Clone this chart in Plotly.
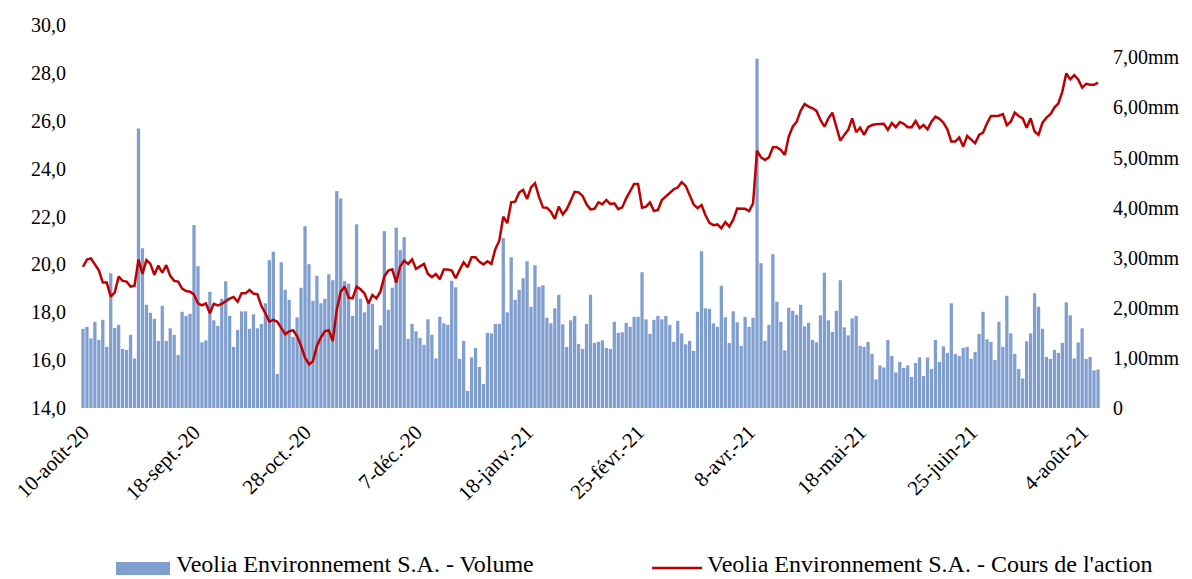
import plotly.graph_objects as go

# ---- data -------------------------------------------------------------
tick_labels = ["10-août-20", "18-sept.-20", "28-oct.-20", "7-déc.-20", "18-janv.-21",
               "25-févr.-21", "8-avr.-21", "18-mai-21", "25-juin-21", "4-août-21"]
tick_step = 28  # one date label every 28 trading days

# daily volume, millions of shares
volume = [1.58,1.62,1.39,1.72,1.36,1.76,1.22,2.69,1.60,1.66,
          1.18,1.16,1.46,0.99,5.58,3.19,2.06,1.90,1.78,1.34,
          2.04,1.34,1.59,1.46,1.06,1.92,1.84,1.88,3.65,2.83,
          1.31,1.35,2.32,1.75,1.64,2.18,2.53,1.84,1.22,1.56,
          1.93,1.93,1.58,1.87,1.59,1.68,2.09,2.95,3.12,0.68,
          2.91,2.36,2.16,1.42,1.81,2.40,3.63,2.87,2.14,2.64,
          2.09,2.18,2.67,2.55,4.33,4.18,2.53,2.48,1.84,3.67,
          2.18,1.91,2.16,2.08,1.17,1.65,3.53,1.96,2.40,3.60,
          3.15,3.41,1.38,1.68,1.53,1.40,1.26,1.77,1.46,0.99,
          1.82,1.69,1.66,2.54,2.41,0.98,1.34,0.34,1.01,1.20,
          0.82,0.48,1.50,1.49,1.68,1.68,3.39,1.91,3.01,2.16,
          2.36,2.59,2.93,2.02,2.85,2.42,2.45,1.80,1.69,1.99,
          2.26,1.67,1.22,1.75,1.84,1.28,1.18,1.68,2.26,1.30,
          1.32,1.35,1.20,1.18,1.72,1.50,1.51,1.70,1.62,1.82,
          1.82,2.71,1.77,1.48,1.76,1.84,1.77,1.84,1.66,1.32,
          1.74,1.49,1.27,1.34,1.14,1.92,3.13,1.99,1.98,1.69,
          1.62,2.44,1.81,1.30,1.93,1.71,1.24,1.82,1.62,1.80,
          6.97,2.89,1.34,1.66,3.07,2.12,1.72,1.15,2.00,1.94,
          1.86,2.06,1.63,1.70,1.36,1.31,1.85,2.70,1.75,1.52,
          1.94,2.55,1.61,1.45,1.79,1.84,1.24,1.22,1.32,1.08,
          0.57,0.85,0.81,1.36,1.04,0.71,0.92,0.80,0.85,0.62,
          0.90,1.01,0.64,1.01,0.78,1.36,0.92,1.23,1.10,2.09,
          1.08,1.04,1.20,1.22,0.98,1.12,1.48,1.92,1.37,1.32,
          0.96,1.72,1.22,2.24,1.49,1.08,0.78,0.59,1.33,1.49,
          2.29,2.02,1.58,1.02,0.98,1.16,1.10,1.30,2.11,1.85,
          0.99,1.31,1.59,0.98,1.02,0.75,0.77]

# daily closing price, EUR
price = [19.90,20.20,20.25,20.00,19.75,19.24,19.24,18.65,18.82,19.49,
         19.31,19.28,19.07,19.11,20.21,19.60,20.18,20.02,19.56,19.95,
         19.65,19.97,19.52,19.31,19.28,18.99,18.89,18.86,18.74,18.37,
         18.29,18.37,17.96,18.35,18.29,18.35,18.46,18.57,18.64,18.44,
         18.79,18.79,18.93,18.78,18.75,18.26,17.96,17.61,17.68,17.60,
         17.35,17.08,17.20,17.25,17.00,16.60,16.10,15.82,15.95,16.60,
         16.95,17.20,17.25,16.80,18.10,18.86,19.07,18.61,18.58,19.07,
         18.96,18.79,18.37,18.72,18.58,18.86,19.49,19.74,19.79,19.24,
         19.91,20.16,20.02,20.21,19.81,19.91,20.02,19.60,19.47,19.60,
         19.38,19.79,19.79,19.74,19.42,19.77,20.09,19.88,20.30,20.30,
         20.11,20.00,20.13,20.02,20.64,20.99,21.99,21.72,22.59,22.62,
         23.00,23.11,22.73,23.22,23.39,22.83,22.38,22.37,22.20,21.90,
         22.41,22.09,22.30,22.66,23.03,23.01,22.86,22.51,22.30,22.32,
         22.59,22.51,22.69,22.52,22.55,22.31,22.38,22.76,23.04,23.36,
         23.36,22.37,22.41,22.59,22.23,22.27,22.69,22.83,22.97,23.14,
         23.21,23.44,23.28,22.90,22.51,22.35,22.48,22.05,21.73,21.64,
         21.67,21.51,21.77,21.58,21.87,22.33,22.33,22.32,22.23,22.55,
         24.75,24.47,24.36,24.47,24.89,24.89,24.78,24.57,25.34,25.75,
         25.96,26.42,26.70,26.59,26.52,26.41,26.03,25.75,26.10,26.34,
         25.75,25.17,25.41,25.62,26.10,25.52,25.71,25.41,25.73,25.82,
         25.85,25.85,25.87,25.62,25.90,25.73,25.95,25.87,25.73,25.73,
         25.99,25.69,25.82,25.64,25.96,26.17,26.08,25.92,25.64,25.13,
         25.13,25.30,24.92,25.37,25.20,25.06,25.41,25.50,25.89,26.20,
         26.20,26.21,26.28,25.82,25.96,26.34,26.20,26.10,25.71,26.10,
         25.55,25.41,25.92,26.13,26.27,26.55,26.73,27.22,27.98,27.73,
         27.91,27.73,27.38,27.54,27.50,27.50,27.59]

price_ticks = [14, 16, 18, 20, 22, 24, 26, 28, 30]
volume_ticks = [0, 1, 2, 3, 4, 5, 6, 7]

name_vol = "Veolia Environnement S.A. - Volume"
name_px = "Veolia Environnement S.A. - Cours de l'action"

# ---- styling / layout -------------------------------------------------
OFF = 8                      # page body margin of the browser
W, H = 1192 - OFF, 579 - OFF
PL, PR, PT, PB = 81, 1100, 25, 408   # plot area in screen pixels
ML, MR, MT, MB = PL - OFF, W - (PR - OFF), PT - OFF, H - (PB - OFF)
FONT = "Liberation Serif, Times New Roman, serif"
BAR_COLOR = "#809FCF"
LINE_COLOR = "#C00000"

x = list(range(len(volume)))

fig = go.Figure()
fig.add_trace(go.Bar(x=x, y=volume, name=name_vol,
                     marker=dict(color=BAR_COLOR, line=dict(width=0)),
                     yaxis="y", showlegend=False))
fig.add_trace(go.Scatter(x=x, y=price, name=name_px, mode="lines",
                         line=dict(color=LINE_COLOR, width=2.5),
                         yaxis="y2", showlegend=False))

pw = PR - PL
ph = PB - PT

def px_x(X):   # screen x -> paper
    return (X - PL) / pw

def px_y(Y):   # screen y -> paper
    return (PB - Y) / ph

fig.update_layout(
    width=W, height=H,
    margin=dict(l=ML, r=MR, t=MT, b=MB, autoexpand=False),
    paper_bgcolor="white", plot_bgcolor="white",
    font=dict(family=FONT, size=20, color="black"),
    bargap=0.17,
    xaxis=dict(range=[-0.5, len(volume) - 0.5],
               tickvals=[i * tick_step for i in range(len(tick_labels))],
               ticktext=tick_labels, tickangle=-45, automargin=False,
               showgrid=False, zeroline=False, showline=False, ticks="",
               tickfont=dict(size=21), ticklabelstandoff=7),
    yaxis=dict(side="right", range=[0, 7.645], tickvals=volume_ticks,
               ticktext=["0" if v == 0 else f"{v},00mm" for v in volume_ticks],
               showgrid=False, zeroline=False, showline=False, ticks="",
               automargin=False, ticklabelstandoff=12),
    yaxis2=dict(side="left", overlaying="y", range=[14, 30], tickvals=price_ticks,
                ticktext=[f"{v},0" for v in price_ticks], automargin=False,
                showgrid=False, zeroline=False, showline=False, ticks="",
                ticklabelstandoff=14),
)

# legend drawn below the plot
fig.add_shape(type="rect", xref="paper", yref="paper",
              x0=px_x(116), x1=px_x(170), y0=px_y(575), y1=px_y(562),
              fillcolor=BAR_COLOR, line=dict(width=0))
fig.add_annotation(xref="paper", yref="paper", x=px_x(174), y=px_y(579),
                   text=name_vol, showarrow=False, xanchor="left", yanchor="bottom",
                   font=dict(family=FONT, size=24, color="black"))
fig.add_shape(type="line", xref="paper", yref="paper",
              x0=px_x(652), x1=px_x(702), y0=px_y(568), y1=px_y(568),
              line=dict(color=LINE_COLOR, width=2.5))
fig.add_annotation(xref="paper", yref="paper", x=px_x(705), y=px_y(579),
                   text=name_px, showarrow=False, xanchor="left", yanchor="bottom",
                   font=dict(family=FONT, size=24, color="black"))

fig.write_html("out.html")
